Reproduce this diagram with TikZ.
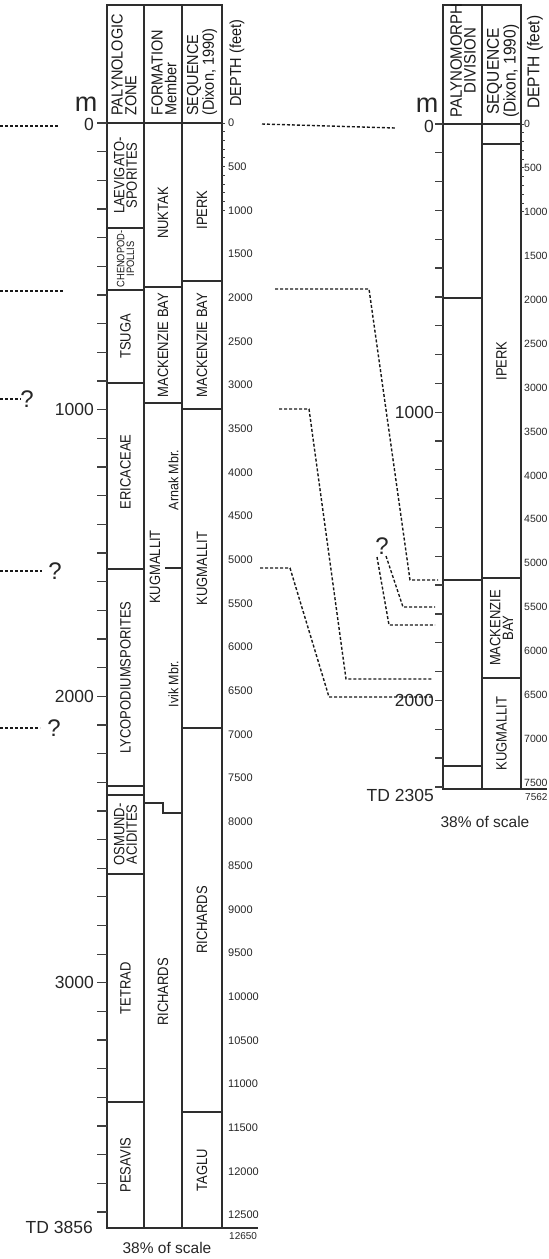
\documentclass[tikz,border=0pt]{standalone}
\usepackage{fontspec}
\setmainfont{Liberation Sans}
\newcommand{\fsz}[2]{\fontsize{#1}{#2}\selectfont}

\begin{document}
\begin{tikzpicture}[x=1pt, y=-1pt,
	cell/.style={line width=1.4pt, draw=black!82},
	zone/.style={rotate=90, yscale=1.15, inner sep=0pt, align=center, text=black!90, font=\fsz{13}{11}},
	mbr/.style={rotate=90, yscale=1.1, inner sep=0pt, text=black!90, font=\fsz{12.5}{12.5}},
	head/.style={rotate=90, yscale=1.1, anchor=west, inner sep=0pt, text=black!90, font=\fsz{14.5}{12.5}},
	mtick/.style={line width=1.3pt, draw=black!75},
	ftlab/.style={anchor=west, inner sep=0pt, text=black!85, font=\fsz{11}{11}},
	mlab/.style={anchor=east, inner sep=0pt, text=black!85, font=\fsz{17.5}{17.5}},
	corr/.style={line width=1.4pt, draw=black!90, dash pattern=on 3pt off 2pt},
	qmark/.style={inner sep=0pt, text=black!85, font=\fsz{24}{24}}]
	\useasboundingbox (0,0) rectangle (549,1259);

	% left well: header
	\draw[cell] (107,5) rectangle (144,123);
	\draw[cell] (144,5) rectangle (182,123);
	\draw[cell] (182,5) rectangle (222,123);
	\node[head, align=left] (lhzone) at (124,116) {PALYNOLOGIC\\ZONE};
	\node[head, align=left] (lhform) at (164,116) {FORMATION\\Member};
	\node[head, align=left] (lhseq) at (202,116) {SEQUENCE\\(Dixon, 1990)};
	\node[head] (lhdepth) at (237,107) {DEPTH (feet)};

	% left well: palynologic zones
	\draw[cell] (107,123) rectangle (144,228) node[midway, zone] (laev) {LAEVIGATO-\\SPORITES};
	\draw[cell] (107,228) rectangle (144,290) node[midway, zone, font=\fsz{9.3}{8.5}] (chen) {CHENOPOD-\\IPOLLIS};
	\draw[cell] (107,290) rectangle (144,383) node[midway, zone] (tsuga) {TSUGA};
	\draw[cell] (107,383) rectangle (144,569);
	\node[zone] (eric) at (125.5,472) {ERICACEAE};
	\draw[cell] (107,569) rectangle (144,786) node[midway, zone] (lyco) {LYCOPODIUMSPORITES};
	\draw[cell] (107,786) rectangle (144,795);
	\draw[cell] (107,795) rectangle (144,874) node[midway, zone] (osmu) {OSMUND-\\ACIDITES};
	\draw[cell] (107,874) rectangle (144,1102) node[midway, zone] (tetr) {TETRAD};
	\draw[cell] (107,1102) rectangle (144,1228) node[midway, zone] (pesa) {PESAVIS};

	% left well: formations
	\draw[cell] (144,123) rectangle (182,287);
	\node[zone] (nuktak) at (163,213) {NUKTAK};
	\draw[cell] (144,287) rectangle (182,403) node[midway, zone] (mbayf) {MACKENZIE BAY};
	\draw[cell] (144,403) -- (144,1228) -- (182,1228) -- (182,403);
	\draw[cell] (144,803) -- (163,803) -- (163,813) -- (182,813);
	\draw[cell] (165,568) -- (182,568);
	\node[zone] (kugf) at (155,567) {KUGMALLIT};
	\node[mbr] (arnak) at (173.5,480) {Arnak Mbr.};
	\node[mbr] (ivik) at (173.5,684) {Ivik Mbr.};
	\node[zone] (richf) at (163,992) {RICHARDS};

	% left well: sequences
	\draw[cell] (182,123) rectangle (222,281);
	\node[zone] (iperkl) at (202,210) {IPERK};
	\draw[cell] (182,281) rectangle (222,409) node[midway, zone] (mbayl) {MACKENZIE BAY};
	\draw[cell] (182,409) rectangle (222,728) node[midway, zone] (kugl) {KUGMALLIT};
	\draw[cell] (182,728) rectangle (222,1112) node[midway, zone] (richl) {RICHARDS};
	\draw[cell] (182,1112) rectangle (222,1228) node[midway, zone] (taglu) {TAGLU};
	\draw[cell] (222,1228) -- (258,1228);

	% left well: scales
	\foreach \i in {0,...,38}
		\draw[mtick] (97,{123+28.66*\i}) -- (107,{123+28.66*\i});
	\foreach \f in {0,100,...,1000}
		\draw[mtick, line width=1pt] (222,{123+0.08736*\f}) -- (225,{123+0.08736*\f});
	\foreach \f in {0,500,...,12500}
		\node[ftlab] (lft\f) at (228,{123+0.08736*\f}) {\f};
	\node[ftlab, font=\fsz{10}{10}] (lftend) at (229,1236) {12650};
	\node[anchor=base, inner sep=0pt, text=black!85, font=\fsz{27}{27}] (lunit) at (86,111) {m};
	\node[mlab] (lm0) at (94,124) {0};
	\node[mlab] (lm1) at (94,409.6) {1000};
	\node[mlab] (lm2) at (94,696.2) {2000};
	\node[mlab] (lm3) at (94,982.8) {3000};
	\node[mlab] (ltd) at (93,1227) {TD 3856};
	\node[inner sep=0pt, text=black!85, font=\fsz{15.5}{15.5}] (lscale) at (167,1248) {38\% of scale};

	% right well: header
	\draw[cell] (443,5) rectangle (482,124);
	\draw[cell] (482,5) rectangle (521,124);
	\node[head, align=center, font=\fsz{15}{12.5}] (rhdiv) at (463,118) {PALYNOMORPH\\DIVISION};
	\node[head, align=center, font=\fsz{15.5}{12.5}] (rhseq) at (503,118) {SEQUENCE\\(Dixon, 1990)};
	\node[head, font=\fsz{15.5}{15.5}] (rhdepth) at (535,109) {DEPTH (feet)};

	% right well: divisions and sequences
	\draw[cell] (443,124) rectangle (482,298);
	\draw[cell] (443,298) rectangle (482,580);
	\draw[cell] (443,580) rectangle (482,766);
	\draw[cell] (443,766) rectangle (482,789);
	\draw[cell] (482,124) rectangle (521,144);
	\draw[cell] (482,144) rectangle (521,578) node[midway, zone] (iperkr) {IPERK};
	\draw[cell] (482,578) rectangle (521,678) node[midway, zone] (mbayr) {MACKENZIE\\BAY};
	\draw[cell] (482,678) rectangle (521,789) node[midway, zone] (kugr) {KUGMALLIT};
	\draw[cell] (521,789) -- (547,789);

	% right well: scales
	\foreach \i in {0,...,23}
		\draw[mtick] (435,{124+28.82*\i}) -- (443,{124+28.82*\i});
	\foreach \f in {0,100,...,1000}
		\draw[mtick, line width=1pt] (521,{124+0.08784*\f}) -- (524,{124+0.08784*\f});
	\foreach \f in {0,500,...,7500}
		\node[ftlab, font=\fsz{10.5}{10.5}] (rft\f) at (524,{124+0.08784*\f}) {\f};
	\node[ftlab, font=\fsz{10}{10}] (rftend) at (525,797) {7562};
	\node[anchor=base, inner sep=0pt, text=black!85, font=\fsz{27}{27}] (runit) at (427,112.5) {m};
	\node[mlab] (rm0) at (434,126) {0};
	\node[mlab] (rm1) at (434,412.2) {1000};
	\node[mlab] (rm2) at (434,700.4) {2000};
	\node[mlab] (rtd) at (434,795) {TD 2305};
	\node[inner sep=0pt, text=black!85, font=\fsz{15.5}{15.5}] (rscale) at (485,822) {38\% of scale};

	% correlations, left edge
	\draw[corr] (0,126) -- (58,126);
	\draw[corr] (0,291) -- (63,291);
	\node[qmark] (q1) at (27,399) {?};
	\draw[corr] (0,399) -- (q1.west);
	\node[qmark] (q2) at (55,571) {?};
	\draw[corr] (0,571) -- (42,571);
	\node[qmark] (q3) at (54,728) {?};
	\draw[corr] (0,728) -- (40,728);

	% correlations, between wells
	\draw[corr] (262,124) -- (395,128);
	\draw[corr] (275,289) -- (369,289) -- (410,580) -- (438,580);
	\draw[corr] (279,409) -- (309,409) -- (346,679) -- (433,679);
	\draw[corr] (260,568) -- (290,568) -- (329,697) -- (432,697);
	\node[qmark] (q4) at (382,546) {?};
	\draw[corr] (377,557) -- (389,625) -- (435,625);
	\draw[corr] (386,556) -- (403,607) -- (435,607);
\end{tikzpicture}
\end{document}
